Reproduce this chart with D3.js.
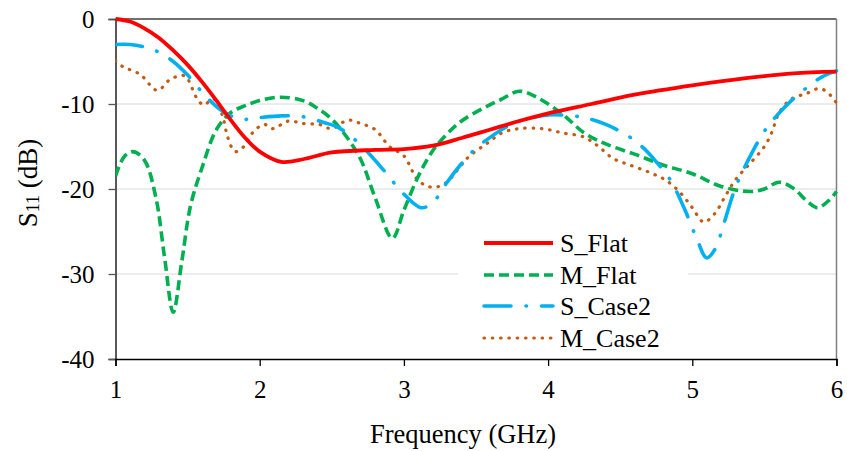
<!DOCTYPE html>
<html>
<head>
<meta charset="utf-8">
<script src="https://cdn.jsdelivr.net/npm/d3@7"></script>
<style>
  html, body { margin: 0; padding: 0; background: #fff; }
</style>
</head>
<body>
<svg id="chart" width="847" height="451"></svg>
<script>
// ---- Data ----
const xTicks = [1, 2, 3, 4, 5, 6];
const yTicks = [0, -10, -20, -30, -40];
const seriesNames = ["S_Flat", "M_Flat", "S_Case2", "M_Case2"];

const sFlatX = [1.0, 1.1, 1.2, 1.3, 1.4, 1.5, 1.6, 1.7, 1.8, 1.9, 2.0, 2.15, 2.3, 2.5, 2.8, 3.0, 3.2, 3.4, 3.6, 3.8, 4.0, 4.3, 4.6, 5.0, 5.4, 5.7, 6.0];
const sFlatY = [0, -0.3, -1.1, -2.2, -3.7, -5.4, -7.4, -9.6, -11.9, -14.0, -15.6, -16.8, -16.5, -15.7, -15.4, -15.3, -14.9, -14.0, -13.0, -12.0, -11.1, -10.0, -8.9, -7.8, -6.9, -6.4, -6.2];

const mFlatX = [1.0, 1.06, 1.12, 1.2, 1.28, 1.34, 1.40, 1.46, 1.52, 1.6, 1.7, 1.8, 1.9, 2.0, 2.14, 2.3, 2.4, 2.5, 2.6, 2.7, 2.8, 2.92, 3.0, 3.1, 3.2, 3.3, 3.4, 3.55, 3.67, 3.8, 3.92, 4.1, 4.25, 4.4, 4.6, 4.8, 5.0, 5.2, 5.4, 5.5, 5.6, 5.7, 5.8, 5.87, 5.95, 6.0];
const mFlatY = [-18.5, -16.2, -15.6, -16.6, -21, -28, -34.5, -28.5, -22, -17.5, -13, -11, -10.2, -9.6, -9.2, -9.6, -10.5, -11.8, -13.8, -16.5, -21, -25.8, -22.5, -18.5, -15.5, -13.5, -12, -10.5, -9.5, -8.5, -9.2, -11.2, -13.4, -14.7, -15.9, -17.2, -18.2, -19.7, -20.3, -20, -19.2, -19.9, -21.5, -22.2, -21.3, -20.3];

const sCase2X = [1.0, 1.1, 1.2, 1.3, 1.4, 1.5, 1.6, 1.7, 1.8, 1.9, 2.0, 2.15, 2.3, 2.45, 2.55, 2.7, 2.85, 3.0, 3.12, 3.2, 3.3, 3.4, 3.5, 3.6, 3.7, 3.8, 4.0, 4.1, 4.25, 4.4, 4.55, 4.65, 4.75, 4.85, 4.95, 5.03, 5.1, 5.16, 5.22, 5.3, 5.4, 5.5, 5.6, 5.7, 5.8, 5.9, 6.0];
const sCase2Y = [-3.0, -3.0, -3.3, -3.9, -5.0, -6.6, -8.6, -10.3, -11.4, -11.8, -11.6, -11.4, -11.5, -12.2, -12.8, -14.8, -17.6, -20.6, -22.2, -21.6, -19.2, -17, -15.2, -13.9, -12.8, -12.0, -11.3, -11.3, -11.6, -12.4, -13.7, -15, -16.8, -19, -22.5, -25.8, -28.1, -27, -24, -19.8, -16.2, -13.2, -11.1, -9.4, -8.0, -6.8, -6.1];

const mCase2X = [1.0, 1.05, 1.17, 1.29, 1.38, 1.48, 1.56, 1.61, 1.68, 1.74, 1.78, 1.83, 1.89, 1.95, 2.03, 2.09, 2.2, 2.3, 2.41, 2.5, 2.61, 2.7, 2.8, 2.9, 3.0, 3.1, 3.2, 3.29, 3.37, 3.45, 3.58, 3.68, 3.8, 3.96, 4.1, 4.25, 4.35, 4.45, 4.57, 4.71, 4.82, 4.92, 5.0, 5.08, 5.16, 5.22, 5.3, 5.4, 5.5, 5.55, 5.6, 5.68, 5.8, 5.87, 5.92, 5.97, 6.0];
const mCase2Y = [-4.9, -5.6, -6.5, -8.4, -7.1, -6.7, -9.2, -10.1, -9.4, -11.3, -14, -15.6, -15.0, -13.4, -12.4, -12.9, -12.0, -12.3, -12.4, -12.9, -11.9, -12.3, -13, -15.0, -16.1, -19.0, -19.8, -19.3, -17.8, -16.2, -14.6, -13.4, -12.9, -12.9, -13.4, -13.9, -15.0, -16.4, -17.2, -18.1, -19.0, -20.5, -22.2, -23.9, -22.8, -21.1, -18.9, -17, -15, -13.4, -11.1, -9.5, -8.7, -8.2, -8.4, -9.2, -9.9];

// ---- Styles ----
const styles = [
  { color: "#FF0000", width: 3.8, dash: null, cap: "butt" },
  { color: "#00B050", width: 3.6, dash: "10,5", cap: "butt" },
  { color: "#00B0F0", width: 3.6, dash: "27,15,0.5,15", cap: "round" },
  { color: "#C55A11", width: 3.2, dash: "0.5,7.8", cap: "round" }
];

const series = [
  { name: seriesNames[0], pts: sFlatX.map((v, i) => [v, sFlatY[i]]) },
  { name: seriesNames[1], pts: mFlatX.map((v, i) => [v, mFlatY[i]]) },
  { name: seriesNames[2], pts: sCase2X.map((v, i) => [v, sCase2Y[i]]) },
  { name: seriesNames[3], pts: mCase2X.map((v, i) => [v, mCase2Y[i]]) }
];

const FONT = "Liberation Serif";
const svg = d3.select("#chart");
const pLeft = 115.5, pRight = 836.5, pTop = 19, pBottom = 359;

const xS = d3.scaleLinear().domain([1, 6]).range([pLeft, pRight]);
const yS = d3.scaleLinear().domain([-40, 0]).range([pBottom, pTop]);

// gridlines
svg.append("g").selectAll("line")
  .data(yTicks.filter(d => d !== 0 && d !== -40))
  .join("line")
  .attr("x1", pLeft).attr("x2", pRight)
  .attr("y1", d => yS(d)).attr("y2", d => yS(d))
  .attr("stroke", "#d9d9d9").attr("stroke-width", 1.2);

// top and right border
svg.append("line").attr("x1", pLeft).attr("x2", pRight).attr("y1", pTop).attr("y2", pTop)
  .attr("stroke", "#404040").attr("stroke-width", 1.5);
svg.append("line").attr("x1", pRight).attr("x2", pRight).attr("y1", pTop).attr("y2", pBottom)
  .attr("stroke", "#808080").attr("stroke-width", 1.5);

// axes
const yAxis = d3.axisLeft(yS).tickValues(yTicks).tickSize(7).tickPadding(14).tickFormat(d3.format("d"));
const gy = svg.append("g").attr("transform", `translate(${pLeft},0)`).call(yAxis)
  .attr("font-family", FONT);
gy.select(".domain").attr("stroke", "#000").attr("stroke-width", 1.3);
gy.selectAll(".tick line").attr("stroke", "#555").attr("stroke-width", 1.3);
gy.selectAll(".tick text").attr("font-size", 25).attr("font-family", FONT).attr("fill", "#000")
  .text(d => d === 0 ? "0" : "-" + Math.abs(d));

const xAxis = d3.axisBottom(xS).tickValues(xTicks).tickSize(7).tickPadding(14).tickFormat(d3.format("d"));
const gx = svg.append("g").attr("transform", `translate(0,${pBottom})`).call(xAxis)
  .attr("font-family", FONT);
gx.select(".domain").attr("stroke", "#000").attr("stroke-width", 1.5);
gx.selectAll(".tick line").attr("stroke", "#000").attr("stroke-width", 1.3);
gx.selectAll(".tick text").attr("font-size", 25).attr("font-family", FONT).attr("fill", "#000");

// clip
svg.append("clipPath").attr("id", "plotclip").append("rect")
  .attr("x", pLeft).attr("y", pTop - 4).attr("width", pRight - pLeft + 3).attr("height", pBottom - pTop + 8);

const line = d3.line().x(d => xS(d[0])).y(d => yS(d[1])).curve(d3.curveCatmullRom.alpha(0.5));

// legend background
const legX = 458, legY = 226, legW = 230, legH = 132;
svg.append("rect").attr("x", legX).attr("y", legY).attr("width", legW).attr("height", legH).attr("fill", "#fff");

const plot = svg.append("g").attr("clip-path", "url(#plotclip)");
[3, 1, 2, 0].forEach(i => {
  const s = styles[i];
  plot.append("path")
    .attr("d", line(series[i].pts))
    .attr("fill", "none")
    .attr("stroke", s.color)
    .attr("stroke-width", s.width)
    .attr("stroke-linecap", s.cap)
    .attr("stroke-linejoin", "round")
    .attr("stroke-dasharray", s.dash);
});

// legend
const rowY = [243, 275, 306, 338];
const leg = svg.append("g");
series.forEach((ser, i) => {
  const s = styles[i];
  leg.append("line")
    .attr("x1", 484).attr("x2", 553).attr("y1", rowY[i]).attr("y2", rowY[i])
    .attr("stroke", s.color).attr("stroke-width", s.width)
    .attr("stroke-linecap", s.cap).attr("stroke-dasharray", s.dash);
  leg.append("text").attr("x", 560).attr("y", rowY[i]).attr("dy", "0.35em")
    .attr("font-size", 26).attr("font-family", FONT).text(ser.name);
});

// axis titles
svg.append("text").attr("x", 463).attr("y", 443)
  .attr("text-anchor", "middle").attr("font-size", 26.5).attr("font-family", FONT).text("Frequency (GHz)");

const yt = svg.append("text").attr("transform", "translate(37,183) rotate(-90)")
  .attr("text-anchor", "middle").attr("font-size", 27).attr("font-family", FONT);
yt.append("tspan").text("S");
yt.append("tspan").attr("font-size", 18).attr("dy", 2).text("11");
yt.append("tspan").attr("dy", -2).text(" (dB)");
</script>
</body>
</html>
